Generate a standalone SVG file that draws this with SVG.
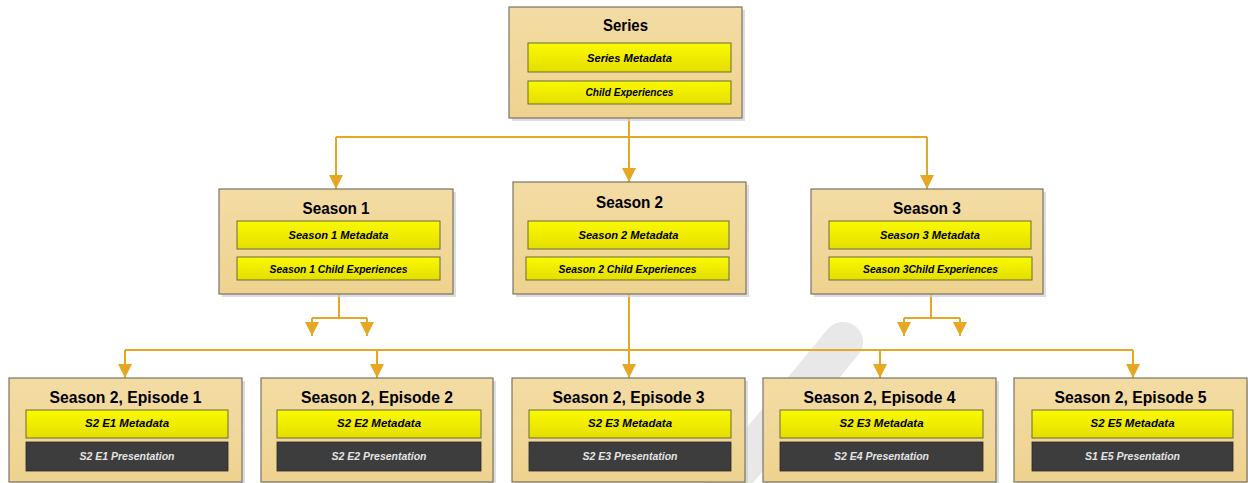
<svg xmlns="http://www.w3.org/2000/svg" width="1248" height="483" viewBox="0 0 1248 483">
<style>
.box{fill:url(#tan);stroke:#7a7466;stroke-width:1.2}
.shadow{fill:#cfcfcf;opacity:0.7}
.meta{fill:url(#yel);stroke:#6b6b3a;stroke-width:1}
.dark{fill:#3d3d3d;stroke:#2a2a2a;stroke-width:0.8}
.title{font-family:"Liberation Sans",Arial,sans-serif;font-weight:bold;font-size:16.5px;fill:#000;text-anchor:middle}
.sub{font-family:"Liberation Sans",Arial,sans-serif;font-weight:bold;font-style:italic;font-size:11px;fill:#000;text-anchor:middle}
.subw{font-family:"Liberation Sans",Arial,sans-serif;font-weight:bold;font-style:italic;font-size:11px;fill:#e4e4e4;text-anchor:middle}
.conn{fill:none;stroke:#e6a823;stroke-width:2}
.arr{fill:none;stroke:#e6a823;stroke-width:2;marker-end:url(#ah)}
</style>
<defs>
<linearGradient id="tan" x1="0" y1="0" x2="0" y2="1">
<stop offset="0" stop-color="#f3dca4"/>
<stop offset="1" stop-color="#eed28f"/>
</linearGradient>
<linearGradient id="yel" x1="0" y1="0" x2="0" y2="1">
<stop offset="0" stop-color="#fafa00"/>
<stop offset="1" stop-color="#e4de00"/>
</linearGradient>
<marker id="ah" markerUnits="userSpaceOnUse" markerWidth="14" markerHeight="14" viewBox="0 0 12 12" refX="12" refY="6" orient="auto">
<path d="M0,0 L12,6 L0,12 z" fill="#e6a823"/>
</marker>
</defs>
<rect width="1248" height="483" fill="#ffffff"/>
<line x1="843" y1="342" x2="728" y2="482" stroke="#e8e8e8" stroke-width="40" stroke-linecap="round"/>

<g id="connectors">
<path class="conn" d="M629,104 V137 M336,137 H927"/>
<path class="arr" d="M336,137 V189"/>
<path class="arr" d="M629,137 V182"/>
<path class="arr" d="M927,137 V189"/>
<path class="conn" d="M339,280 V318 M312,318 H367"/>
<path class="arr" d="M312,318 V336"/>
<path class="arr" d="M367,318 V336"/>
<path class="conn" d="M931,280 V318 M904,318 H960"/>
<path class="arr" d="M904,318 V336"/>
<path class="arr" d="M960,318 V336"/>
<path class="conn" d="M125,350 H1133"/>
<path class="arr" d="M629,280 V378"/>
<path class="arr" d="M125,350 V378"/>
<path class="arr" d="M377,350 V378"/>
<path class="arr" d="M880,350 V378"/>
<path class="arr" d="M1133,350 V378"/>
</g>

<g id="series">
<rect class="shadow" x="512" y="10" width="233" height="111"/>
<rect class="box" x="509" y="7" width="233" height="111"/>
<text class="title" x="625.5" y="31" textLength="45" lengthAdjust="spacingAndGlyphs">Series</text>
<rect class="meta" x="528" y="43" width="203" height="29"/>
<text class="sub" x="629.5" y="62" textLength="85" lengthAdjust="spacingAndGlyphs">Series Metadata</text>
<rect class="meta" x="528" y="81" width="203" height="23"/>
<text class="sub" x="629.5" y="96" textLength="88" lengthAdjust="spacingAndGlyphs">Child Experiences</text>
</g>

<g id="season1">
<rect class="shadow" x="222" y="192" width="234" height="105"/>
<rect class="box" x="219" y="189" width="234" height="105"/>
<text class="title" x="336" y="214" textLength="67" lengthAdjust="spacingAndGlyphs">Season 1</text>
<rect class="meta" x="237" y="221" width="203" height="28"/>
<text class="sub" x="338.5" y="239" textLength="100" lengthAdjust="spacingAndGlyphs">Season 1 Metadata</text>
<rect class="meta" x="237" y="257" width="203" height="23"/>
<text class="sub" x="338.5" y="273" textLength="138" lengthAdjust="spacingAndGlyphs">Season 1 Child Experiences</text>
</g>

<g id="season2">
<rect class="shadow" x="516" y="185" width="233" height="112"/>
<rect class="box" x="513" y="182" width="233" height="112"/>
<text class="title" x="629.5" y="208" textLength="67" lengthAdjust="spacingAndGlyphs">Season 2</text>
<rect class="meta" x="528" y="221" width="201" height="28"/>
<text class="sub" x="628.5" y="239" textLength="100" lengthAdjust="spacingAndGlyphs">Season 2 Metadata</text>
<rect class="meta" x="526" y="257" width="203" height="23"/>
<text class="sub" x="627.5" y="273" textLength="138" lengthAdjust="spacingAndGlyphs">Season 2 Child Experiences</text>
</g>

<g id="season3">
<rect class="shadow" x="814" y="192" width="232" height="105"/>
<rect class="box" x="811" y="189" width="232" height="105"/>
<text class="title" x="927" y="214" textLength="68" lengthAdjust="spacingAndGlyphs">Season 3</text>
<rect class="meta" x="829" y="221" width="202" height="28"/>
<text class="sub" x="930" y="239" textLength="100" lengthAdjust="spacingAndGlyphs">Season 3 Metadata</text>
<rect class="meta" x="829" y="257" width="203" height="23"/>
<text class="sub" x="930.5" y="273" textLength="135" lengthAdjust="spacingAndGlyphs">Season 3Child Experiences</text>
</g>

<g id="episode1">
<rect class="shadow" x="12" y="381" width="233" height="104"/>
<rect class="box" x="9" y="378" width="233" height="104"/>
<text class="title" x="125.5" y="403" textLength="152" lengthAdjust="spacingAndGlyphs">Season 2, Episode 1</text>
<rect class="meta" x="26" y="410" width="202" height="28"/>
<text class="sub" x="127" y="427" textLength="84" lengthAdjust="spacingAndGlyphs">S2 E1 Metadata</text>
<rect class="dark" x="26" y="442" width="202" height="29"/>
<text class="subw" x="127" y="460" textLength="95" lengthAdjust="spacingAndGlyphs">S2 E1 Presentation</text>
</g>

<g id="episode2">
<rect class="shadow" x="264" y="381" width="232" height="104"/>
<rect class="box" x="261" y="378" width="232" height="104"/>
<text class="title" x="377" y="403" textLength="152" lengthAdjust="spacingAndGlyphs">Season 2, Episode 2</text>
<rect class="meta" x="277" y="410" width="204" height="28"/>
<text class="sub" x="379" y="427" textLength="84" lengthAdjust="spacingAndGlyphs">S2 E2 Metadata</text>
<rect class="dark" x="277" y="442" width="204" height="29"/>
<text class="subw" x="379" y="460" textLength="95" lengthAdjust="spacingAndGlyphs">S2 E2 Presentation</text>
</g>

<g id="episode3">
<rect class="shadow" x="515" y="381" width="233" height="104"/>
<rect class="box" x="512" y="378" width="233" height="104"/>
<text class="title" x="628.5" y="403" textLength="152" lengthAdjust="spacingAndGlyphs">Season 2, Episode 3</text>
<rect class="meta" x="529" y="410" width="202" height="28"/>
<text class="sub" x="630" y="427" textLength="84" lengthAdjust="spacingAndGlyphs">S2 E3 Metadata</text>
<rect class="dark" x="529" y="442" width="202" height="29"/>
<text class="subw" x="630" y="460" textLength="95" lengthAdjust="spacingAndGlyphs">S2 E3 Presentation</text>
</g>

<g id="episode4">
<rect class="shadow" x="766" y="381" width="233" height="104"/>
<rect class="box" x="763" y="378" width="233" height="104"/>
<text class="title" x="879.5" y="403" textLength="152" lengthAdjust="spacingAndGlyphs">Season 2, Episode 4</text>
<rect class="meta" x="780" y="410" width="203" height="28"/>
<text class="sub" x="881.5" y="427" textLength="84" lengthAdjust="spacingAndGlyphs">S2 E3 Metadata</text>
<rect class="dark" x="780" y="442" width="203" height="29"/>
<text class="subw" x="881.5" y="460" textLength="95" lengthAdjust="spacingAndGlyphs">S2 E4 Presentation</text>
</g>

<g id="episode5">
<rect class="shadow" x="1017" y="381" width="233" height="104"/>
<rect class="box" x="1014" y="378" width="233" height="104"/>
<text class="title" x="1130.5" y="403" textLength="152" lengthAdjust="spacingAndGlyphs">Season 2, Episode 5</text>
<rect class="meta" x="1032" y="410" width="201" height="28"/>
<text class="sub" x="1132.5" y="427" textLength="84" lengthAdjust="spacingAndGlyphs">S2 E5 Metadata</text>
<rect class="dark" x="1032" y="442" width="201" height="29"/>
<text class="subw" x="1132.5" y="460" textLength="95" lengthAdjust="spacingAndGlyphs">S1 E5 Presentation</text>
</g>
</svg>
